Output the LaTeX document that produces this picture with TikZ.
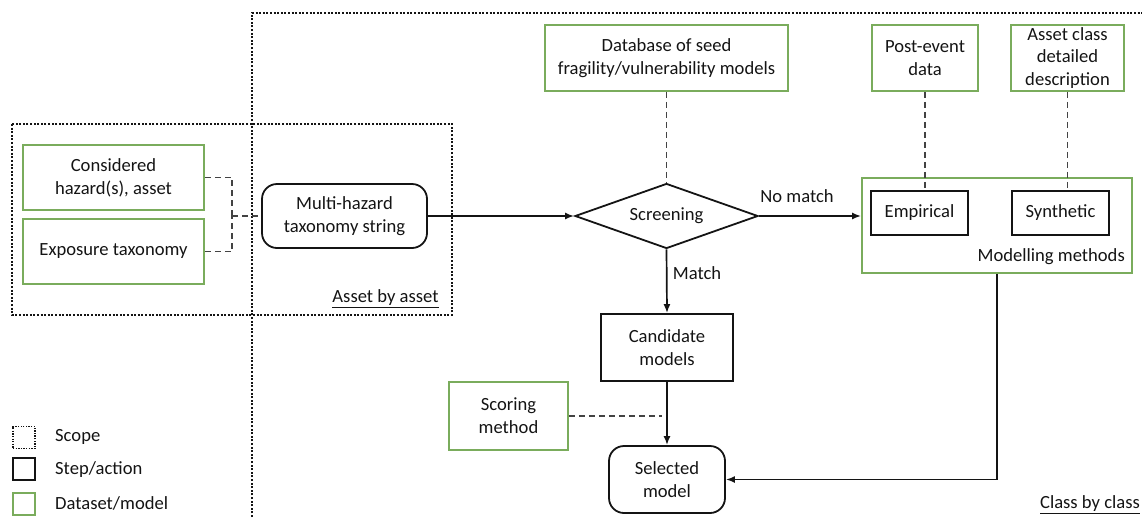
\documentclass[tikz,border=0pt]{standalone}
\usepackage{fontspec}
\setmainfont{Carlito}
\usetikzlibrary{shapes.geometric,arrows.meta}
\definecolor{datagreen}{RGB}{122,172,92}
\definecolor{ink}{RGB}{20,20,20}
\begin{document}
\begin{tikzpicture}[x=1pt,y=-1pt,
  font=\fontsize{18.6}{22.8}\selectfont,
  every node/.style={text=ink},
  box/.style={draw=ink, line width=1.8pt, inner sep=0pt, align=center},
  databox/.style={draw=datagreen, line width=1.8pt, inner sep=0pt, align=center},
  roundbox/.style={box, rounded corners=15pt},
  decision/.style={draw=ink, line width=1.8pt, diamond, aspect=2.8, inner sep=0pt},
  scopeline/.style={draw=ink, line width=2.1pt, dash pattern=on 2pt off 1.6pt},
  link/.style={draw=ink, line width=1.7pt},
  flow/.style={link, -{Latex[length=9pt,width=7pt]}},
  weak/.style={draw=ink!80, line width=1.7pt, dash pattern=on 6pt off 4pt},
  caption/.style={inner sep=0pt}]
\useasboundingbox (0,0) rectangle (1142,517);

% scopes: class by class (open to the page edges) and asset by asset
\draw[scopeline] (252,517) -- (252,13) -- (1142,13);
\draw[scopeline] (12,124) rectangle (452,315);
\node[caption] (assetlbl) at (385.5,299) {\underline{Asset by asset}};
\node[caption] (classlbl) at (1090,505) {\underline{Class by class}};

% inputs for the taxonomy string
\node[databox, minimum width=181pt, minimum height=65pt] (cons) at (113.5,177.5) {Considered\\hazard(s), asset};
\node[databox, minimum width=181pt, minimum height=65pt] (expo) at (113.5,251.5) {Exposure taxonomy};
\coordinate (jn) at (232,216);
\node[roundbox, minimum width=165pt, minimum height=64pt] (mh) at (344.5,216) {Multi-hazard\\taxonomy string};

% screening
\node[decision, minimum width=183pt, minimum height=65pt] (scr) at (666.5,216) {Screening};
\node[databox, minimum width=243pt, minimum height=66pt] (db) at (666.5,58) {Database of seed\\fragility/vulnerability models};

% modelling methods
\node[databox, minimum width=106pt, minimum height=66pt] (post) at (925,58) {Post-event\\data};
\node[databox, minimum width=113pt, minimum height=66pt] (acd) at (1067.5,58) {Asset class\\detailed\\description};
\node[databox, minimum width=270pt, minimum height=95pt] (mm) at (997,225.5) {};
\node[box, minimum width=97pt, minimum height=44pt] (emp) at (919.5,213) {Empirical};
\node[box, minimum width=97pt, minimum height=44pt] (syn) at (1060.5,213) {Synthetic};
\node[caption, anchor=east] (mmlbl) at (1125,257) {Modelling methods};

% selection
\node[box, minimum width=132pt, minimum height=67pt] (cand) at (667,347.5) {Candidate\\models};
\node[databox, minimum width=119pt, minimum height=68pt] (scor) at (508.5,416) {Scoring\\method};
\node[roundbox, minimum width=116pt, minimum height=67pt] (sel) at (667,479.5) {Selected\\model};

% connectors
\draw[weak] (cons.east) -| (jn);
\draw[weak] (expo.east) -| (jn);
\draw[weak] (jn) -- (mh.west);
\draw[flow] (mh.east) -- (scr.west);
\draw[weak] (db.south) -- (scr.north);
\draw[flow] (scr.east) -- (scr.east -| mm.west);
\node[caption] (nomatch) at (797,196) {No match};
\draw[flow] (scr.south) -- (cand.north);
\node[caption] (match) at (697,273) {Match};
\draw[weak] (post.south) -- (post.south |- emp.north);
\draw[weak] (acd.south) -- (acd.south |- syn.north);
\draw[flow] (cand.south) -- (sel.north);
\draw[weak, shorten >=5pt] (scor.east) -- (scor.east -| cand.south);
\draw[flow] (mm.south) |- (sel.east);

% legend
\node[draw=ink, line width=1.3pt, dash pattern=on 1.3pt off 1.3pt, minimum size=22pt, inner sep=0pt] (kscope) at (24,437.5) {};
\node[draw=ink, line width=1.8pt, minimum size=22pt, inner sep=0pt] (kstep) at (24,469) {};
\node[draw=datagreen, line width=1.8pt, minimum size=22pt, inner sep=0pt] (kdata) at (24,504) {};
\node[caption, anchor=west] (tscope) at (55,437) {Scope};
\node[caption, anchor=west] (tstep) at (55,470) {Step/action};
\node[caption, anchor=west] (tdata) at (55,503) {Dataset/model};
\end{tikzpicture}
\end{document}
